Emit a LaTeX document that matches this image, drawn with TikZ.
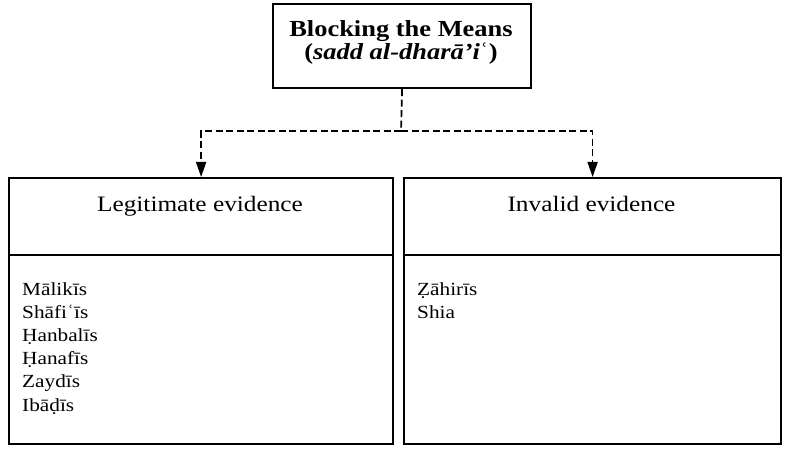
\documentclass[tikz,border=0pt]{standalone}
\usepackage{fontspec}
\setmainfont{Liberation Serif}[FakeStretch=1.15]
\usetikzlibrary{arrows.meta}
\tikzset{
  box/.style={draw, line width=2.2pt, anchor=north west, inner sep=0pt},
  conn/.style={line width=1.7pt, dash pattern=on 7pt off 3.5pt},
  tip/.style={-{Triangle[length=15pt,width=10pt]}},
  head/.style={anchor=base, inner sep=0pt, font=\fontsize{22}{26}\selectfont},
  item/.style={anchor=base west, inner sep=0pt, font=\fontsize{18.5}{23}\selectfont}
}
\begin{document}
\begin{tikzpicture}[x=1pt,y=-1pt]
\useasboundingbox (0,0) rectangle (788,449);
% title box
\node[box, minimum width=258pt, minimum height=84pt] (title) at (272,3) {};
\node[anchor=base, inner sep=0pt, font=\bfseries\fontsize{23}{23}\selectfont] (t1) at (401,37) {Blocking the Means};
\node[anchor=base, inner sep=0pt, font=\bfseries\fontsize{23}{23}\selectfont] (t2) at (401,60) {(\textit{sadd al-dharā’i}ʿ)};
% left box
\node[box, minimum width=384pt, minimum height=266pt] (leg) at (8,177) {};
\coordinate (ldl) at (8,255);
\coordinate (ldr) at (392,255);
\draw[line width=2.2pt] (ldl) -- (ldr);
\node[head] (legt) at (200,212) {Legitimate evidence};
\foreach \t [count=\i] in {Mālikīs,Shāfiʿīs,Ḥanbalīs,Ḥanafīs,Zaydīs,Ibāḍīs}
  \node[item] (l\i) at (22,{273+23*\i}) {\t};
% right box
\node[box, minimum width=377pt, minimum height=266pt] (inv) at (403,177) {};
\coordinate (rdl) at (403,255);
\coordinate (rdr) at (780,255);
\draw[line width=2.2pt] (rdl) -- (rdr);
\node[head] (invt) at (591.5,212) {Invalid evidence};
\foreach \t [count=\i] in {Ẓāhirīs,Shia}
  \node[item] (r\i) at (417,{273+23*\i}) {\t};
% connectors
\coordinate (j) at (401,131);
\draw[conn] (title.south) -- (j);
\draw[conn, tip] (j) -| (leg.north);
\draw[conn, tip] (j) -| (inv.north);
\end{tikzpicture}
\end{document}
